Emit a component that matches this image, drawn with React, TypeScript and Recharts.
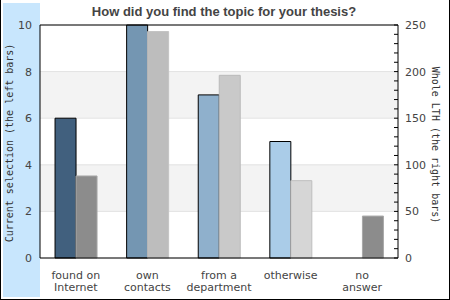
import React from 'react';
import { BarChart, Bar, XAxis, YAxis, CartesianGrid, Cell, ReferenceLine } from 'recharts';

const categories = ['found on Internet', 'own contacts', 'from a department', 'otherwise', 'no answer'];
const currentSelection = [6, 10, 7, 5, 0];
const wholeLTH = [88, 243, 196, 83, 45];
const leftTicks = [0, 2, 4, 6, 8, 10];
const rightTicks = [0, 10, 20, 30, 40, 50, 60, 70, 80, 90, 100, 110, 120, 130, 140, 150, 160, 170, 180, 190, 200, 210, 220, 230, 240, 250];
const currentColors = ['#41607e', '#7496b2', '#8fb0cc', '#aacce8', '#aacce8'];
const lthColors = ['#8c8c8c', '#bdbdbd', '#c9c9c9', '#d6d6d6', '#8c8c8c'];
const lthStrokes = ['#a8a8a8', '#c4c4c4', '#bababa', '#bebebe', '#a8a8a8'];

const data = categories.map((c, i) => ({ name: c, current: currentSelection[i], lth: wholeLTH[i] }));

const TEXT = '#444';

const CatTick = (props: any) => {
  const { x, y, payload } = props;
  const s: string = payload.value;
  const idx = s.lastIndexOf(' ');
  const lines = idx > 0 ? [s.slice(0, idx), s.slice(idx + 1)] : [s];
  return (
    <g>
      {lines.map((l, i) => (
        <text key={i} x={x} y={y + 17 + i * 12 - 8 + 4} textAnchor="middle" fontFamily="DejaVu Sans" fontSize={11} fill={TEXT}>
          {l}
        </text>
      ))}
    </g>
  );
};

const RightTick = (props: any) => {
  const { x, y, payload } = props;
  const ax = x - 7;
  const v = payload.value;
  return (
    <g>
      <line x1={ax - 4} x2={ax} y1={y} y2={y} stroke="#000" strokeWidth={1} />
      {v % 50 === 0 && (
        <text x={x} y={y + 4} textAnchor="start" fontFamily="DejaVu Sans" fontSize={11} fill={TEXT}>
          {v}
        </text>
      )}
    </g>
  );
};

export default function App() {
  return (
    <div style={{ position: 'absolute', left: 0, top: 0, width: 450, height: 300, background: '#fff', overflow: 'hidden' }}>
      <div style={{ position: 'absolute', left: 3, top: 3, width: 37, height: 294, background: '#c8e6fd' }} />
      <div style={{ position: 'absolute', left: 0, top: 0 }}>
        <BarChart width={450} height={300} data={data} margin={{ top: 25, right: 0, bottom: 0, left: 0 }} barGap={0} barCategoryGap="21%">
          <CartesianGrid yAxisId="left" vertical={false} stroke="#e2e2e2" horizontalFill={['#ffffff', '#f3f3f3']} />
          <XAxis dataKey="name" height={42} tickLine={false} axisLine={{ stroke: '#000' }} tick={<CatTick />} interval={0} />
          <YAxis yAxisId="left" orientation="left" width={40} domain={[0, 10]} ticks={leftTicks} tickLine={false} axisLine={{ stroke: '#000' }} tick={{ fontFamily: 'DejaVu Sans', fontSize: 11, fill: TEXT }} interval={0} />
          <YAxis yAxisId="right" orientation="right" width={52} domain={[0, 250]} ticks={rightTicks} tickLine={false} tickSize={0} tickMargin={7} axisLine={{ stroke: '#000' }} tick={<RightTick />} interval={0} />
          <ReferenceLine yAxisId="left" y={10} stroke="#000" />
          <Bar yAxisId="left" dataKey="current" stroke="#000" strokeWidth={1} isAnimationActive={false}>
            {data.map((d, i) => (
              <Cell key={i} fill={currentColors[i]} />
            ))}
          </Bar>
          <Bar yAxisId="right" dataKey="lth" isAnimationActive={false}>
            {data.map((d, i) => (
              <Cell key={i} fill={lthColors[i]} stroke={lthStrokes[i]} />
            ))}
          </Bar>
        </BarChart>
      </div>
      <svg width={450} height={300} style={{ position: 'absolute', left: 0, top: 0, pointerEvents: 'none' }}>
        <text x={224} y={16} textAnchor="middle" fontFamily="Liberation Sans, Arial, sans-serif" fontWeight="bold" fontSize={13} fill={TEXT}>
          How did you find the topic for your thesis?
        </text>
        <text x={9} y={143} transform="rotate(-90 9 143)" textAnchor="middle" dominantBaseline="central" fontFamily="DejaVu Sans Mono" fontSize={10} fill="#333">
          Current selection (the left bars)
        </text>
        <text x={435} y={145} transform="rotate(90 435 145)" textAnchor="middle" dominantBaseline="central" fontFamily="DejaVu Sans Mono" fontSize={10} fill="#333">
          Whole LTH (the right bars)
        </text>
      </svg>
      <div style={{ position: 'absolute', left: 0, top: 0, width: 450, height: 300, boxSizing: 'border-box', borderLeft: '1px solid #000', borderRight: '1px solid #000', borderBottom: '1px solid #000', pointerEvents: 'none' }} />
    </div>
  );
}
